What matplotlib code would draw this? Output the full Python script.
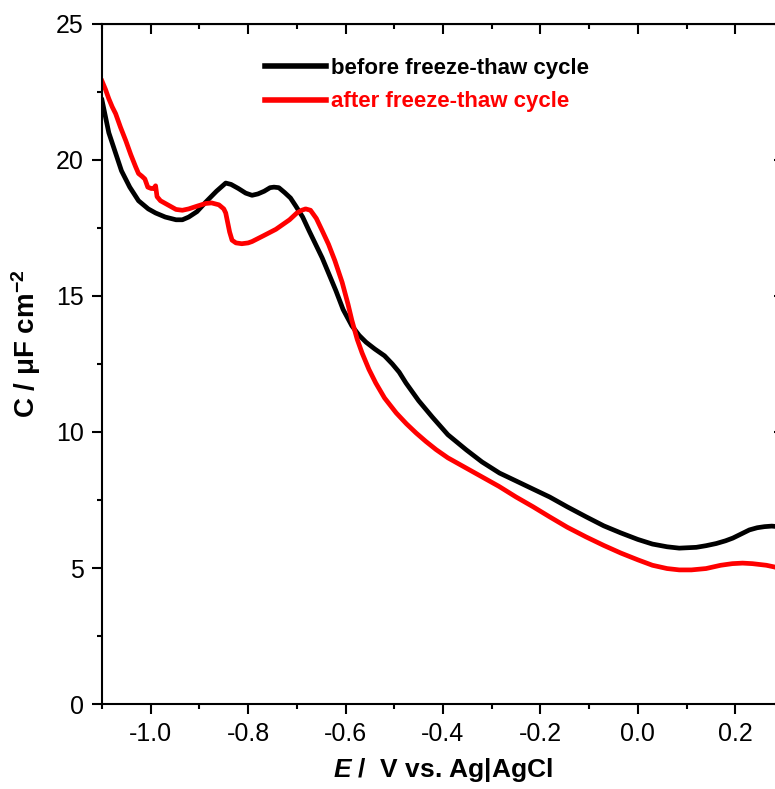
import matplotlib.pyplot as plt
from matplotlib.ticker import MultipleLocator

plt.rcParams['font.family'] = ['Liberation Sans', 'DejaVu Sans']
plt.rcParams['mathtext.fontset'] = 'custom'
plt.rcParams['mathtext.rm'] = 'Liberation Sans:bold'
plt.rcParams['mathtext.it'] = 'Liberation Sans:italic:bold'
plt.rcParams['mathtext.bf'] = 'Liberation Sans:bold'

# before freeze-thaw cycle (black)
before_E = [-1.1, -1.093, -1.086, -1.073, -1.06, -1.043, -1.025, -1.005, -0.99,
            -0.97, -0.948, -0.935, -0.922, -0.905, -0.887, -0.865, -0.846, -0.835,
            -0.82, -0.805, -0.792, -0.78, -0.767, -0.755, -0.747, -0.737, -0.725,
            -0.713, -0.702, -0.688, -0.675, -0.648, -0.62, -0.605, -0.587, -0.572,
            -0.558, -0.54, -0.52, -0.504, -0.49, -0.476, -0.45, -0.422, -0.39,
            -0.352, -0.32, -0.284, -0.25, -0.215, -0.181, -0.145, -0.106, -0.07,
            -0.035, 0.0, 0.03, 0.06, 0.085, 0.12, 0.14, 0.161, 0.18, 0.195,
            0.212, 0.229, 0.245, 0.26, 0.275, 0.3]
before_C = [22.2, 21.6, 21.0, 20.3, 19.6, 19.0, 18.5, 18.2, 18.05,
            17.9, 17.8, 17.8, 17.9, 18.1, 18.45, 18.85, 19.15, 19.1,
            18.95, 18.78, 18.7, 18.75, 18.85, 18.98, 19.0, 18.98, 18.8,
            18.6, 18.3, 17.9, 17.4, 16.4, 15.2, 14.5, 13.9, 13.55,
            13.3, 13.05, 12.8, 12.5, 12.2, 11.8, 11.15, 10.55, 9.9,
            9.34, 8.9, 8.49, 8.2, 7.9, 7.61, 7.25, 6.88, 6.55,
            6.29, 6.05, 5.88, 5.78, 5.73, 5.76, 5.82, 5.9, 6.0, 6.1,
            6.25, 6.4, 6.48, 6.52, 6.54, 6.5]

# after freeze-thaw cycle (red)
after_E = [-1.1, -1.093, -1.086, -1.079, -1.072, -1.062, -1.051, -1.041, -1.031,
           -1.025, -1.018, -1.012, -1.006, -0.999, -0.994, -0.99, -0.987, -0.98,
           -0.97, -0.96, -0.948, -0.935, -0.922, -0.905, -0.887, -0.875, -0.86,
           -0.85, -0.846, -0.842, -0.838, -0.833, -0.825, -0.813, -0.8, -0.792,
           -0.77, -0.743, -0.715, -0.7, -0.69, -0.682, -0.672, -0.66, -0.648,
           -0.635, -0.622, -0.607, -0.595, -0.587, -0.576, -0.566, -0.552, -0.538,
           -0.52, -0.496, -0.475, -0.455, -0.435, -0.414, -0.39, -0.355, -0.32,
           -0.285, -0.25, -0.215, -0.181, -0.145, -0.106, -0.07, -0.035, 0.0,
           0.03, 0.06, 0.085, 0.11, 0.14, 0.17, 0.194, 0.215, 0.235, 0.264,
           0.285, 0.3]
after_C = [22.9, 22.6, 22.25, 21.95, 21.7, 21.2, 20.7, 20.2, 19.75,
           19.5, 19.4, 19.3, 19.0, 18.95, 18.95, 19.05, 18.65, 18.5,
           18.4, 18.3, 18.18, 18.15, 18.2, 18.3, 18.4, 18.42, 18.35,
           18.2, 18.05, 17.7, 17.35, 17.05, 16.95, 16.92, 16.95, 17.0,
           17.2, 17.45, 17.8, 18.05, 18.15, 18.2, 18.15, 17.85, 17.4,
           16.9, 16.3, 15.5, 14.7, 14.1, 13.4, 12.9, 12.3, 11.8,
           11.25, 10.7, 10.3, 9.96, 9.65, 9.35, 9.05, 8.7, 8.35,
           8.0, 7.61, 7.25, 6.88, 6.5, 6.14, 5.83, 5.55, 5.3,
           5.1, 4.98, 4.93, 4.93, 4.98, 5.1, 5.16, 5.18, 5.16, 5.1,
           5.02, 4.95]

fig = plt.figure(figsize=(7.75, 7.89), dpi=100)
ax = fig.add_axes([0.1316, 0.1077, 0.88, 0.862])

ax.plot(before_E, before_C, color='black', lw=3.4, label='before freeze-thaw cycle')
ax.plot(after_E, after_C, color='red', lw=3.4, label='after freeze-thaw cycle')

ax.set_xlim(-1.1, 0.3)
ax.set_ylim(0, 25)
ax.xaxis.set_minor_locator(MultipleLocator(0.1))
ax.yaxis.set_major_locator(MultipleLocator(5))
ax.yaxis.set_minor_locator(MultipleLocator(2.5))
ax.set_xticks([-1.0, -0.8, -0.6, -0.4, -0.2, 0.0, 0.2])
ax.set_xticklabels(['-1.0', '-0.8', '-0.6', '-0.4', '-0.2', '0.0', '0.2'])

for s in ax.spines.values():
    s.set_linewidth(1.5)
ax.tick_params(which='major', direction='out', length=7, width=1.5,
               labelsize=18, pad=6)
ax.tick_params(which='minor', direction='out', length=3.5, width=1.5)

# inward ticks on top and right
top = ax.secondary_xaxis('top')
top.xaxis.set_major_locator(MultipleLocator(0.2))
top.xaxis.set_minor_locator(MultipleLocator(0.1))
top.tick_params(which='major', direction='in', length=7, width=1.5, labeltop=False)
top.tick_params(which='minor', direction='in', length=3.5, width=1.5)
right = ax.secondary_yaxis('right')
right.yaxis.set_major_locator(MultipleLocator(5))
right.yaxis.set_minor_locator(MultipleLocator(2.5))
right.tick_params(which='major', direction='in', length=7, width=1.5, labelright=False)
right.tick_params(which='minor', direction='in', length=3.5, width=1.5)

ax.set_xlabel(r'$\mathit{E}$ /  V vs. Ag|AgCl', fontsize=19, fontweight='bold', labelpad=7)
ax.set_ylabel(r'C / $\mathrm{\mu}$F cm$^{\mathrm{-2}}$', fontsize=20, fontweight='bold')
ax.yaxis.set_label_coords(-0.087, 0.53)

leg = ax.legend(loc='upper left', bbox_to_anchor=(0.223, 0.966), frameon=False,
                prop={'weight': 'bold', 'size': 16}, labelcolor='linecolor',
                handlelength=2.75, handletextpad=0.22, labelspacing=0.55, borderpad=0)
for line in leg.get_lines():
    line.set_linewidth(4)

fig.savefig('out.png', dpi=100)
